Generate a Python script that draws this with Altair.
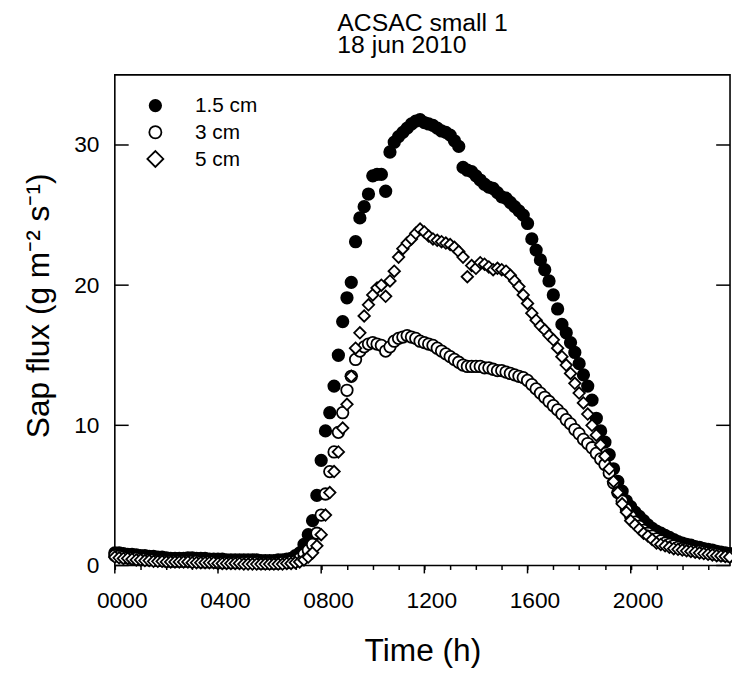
import altair as alt
import pandas as pd

# ---- data ----
SERIES = ["1.5 cm", "3 cm", "5 cm"]
MINUTES = list(range(0, 1440, 10))  # 10-minute logging interval

FLUX_15 = [
    0.9, 0.9, 0.85, 0.8, 0.8, 0.75,
    0.7, 0.7, 0.65, 0.65, 0.6, 0.6,
    0.55, 0.5, 0.5, 0.5, 0.5, 0.55,
    0.55, 0.5, 0.5, 0.5, 0.45, 0.45,
    0.45, 0.45, 0.4, 0.4, 0.4, 0.4,
    0.4, 0.4, 0.4, 0.4, 0.35, 0.35,
    0.35, 0.35, 0.4, 0.4, 0.45, 0.5,
    0.7, 0.9, 1.5, 2.2, 3.2, 5.0,
    7.5, 9.6, 10.9, 12.8, 15.0, 17.4,
    19.1, 20.2, 23.1, 24.8, 25.6, 26.5,
    27.8, 27.9, 27.9, 26.7, 29.5, 30.2,
    30.6, 30.9, 31.2, 31.5, 31.7, 31.8,
    31.6, 31.5, 31.4, 31.2, 31.0, 30.9,
    30.7, 30.3, 29.9, 28.4, 28.2, 28.1,
    27.8, 27.5, 27.2, 27.0, 26.9, 26.6,
    26.3, 26.2, 25.9, 25.6, 25.3, 25.0,
    24.4, 23.3, 22.5, 21.8, 21.1, 20.3,
    19.3, 18.3, 17.2, 16.6, 15.9, 15.2,
    14.4, 13.6, 12.8, 11.8, 10.5, 9.6,
    8.8, 7.9, 6.9, 6.0, 5.3, 4.6,
    4.2, 3.8, 3.5, 3.2, 2.9, 2.65,
    2.45, 2.3, 2.15, 2.0, 1.85, 1.7,
    1.6, 1.5, 1.45, 1.35, 1.3, 1.2,
    1.15, 1.1, 1.0, 0.95, 0.9, 0.85,
]

FLUX_3 = [
    0.7, 0.65, 0.6, 0.55, 0.5, 0.5,
    0.45, 0.45, 0.4, 0.4, 0.35, 0.35,
    0.3, 0.3, 0.3, 0.3, 0.3, 0.3,
    0.3, 0.3, 0.25, 0.25, 0.25, 0.25,
    0.2, 0.2, 0.2, 0.2, 0.2, 0.2,
    0.2, 0.2, 0.2, 0.2, 0.15, 0.15,
    0.15, 0.15, 0.15, 0.2, 0.2, 0.25,
    0.3, 0.5, 0.8, 1.1, 1.5, 2.3,
    3.6, 5.1, 6.7, 8.1, 9.5, 10.9,
    12.5, 13.5, 14.7, 15.3, 15.6, 15.8,
    15.9, 15.8, 15.7, 15.3, 15.6, 16.0,
    16.2, 16.3, 16.4, 16.3, 16.2, 16.0,
    15.9, 15.8, 15.7, 15.5, 15.3, 15.1,
    14.9, 14.7, 14.5, 14.3, 14.2, 14.2,
    14.2, 14.2, 14.1, 14.1, 14.0, 13.9,
    13.9, 13.8, 13.7, 13.6, 13.5, 13.4,
    13.2, 12.9, 12.6, 12.3, 12.0, 11.7,
    11.4, 11.1, 10.8, 10.4, 10.1, 9.7,
    9.4, 9.0, 8.7, 8.4, 8.0, 7.6,
    7.2, 6.6, 5.9, 5.2, 4.6, 4.0,
    3.5, 3.1, 2.8, 2.5, 2.3, 2.1,
    1.9, 1.75, 1.6, 1.5, 1.4, 1.3,
    1.2, 1.15, 1.1, 1.05, 1.0, 0.95,
    0.9, 0.85, 0.8, 0.75, 0.7, 0.65,
]

FLUX_5 = [
    0.6, 0.55, 0.5, 0.5, 0.45, 0.4,
    0.4, 0.35, 0.35, 0.3, 0.3, 0.3,
    0.25, 0.25, 0.25, 0.25, 0.25, 0.25,
    0.2, 0.2, 0.2, 0.2, 0.2, 0.2,
    0.15, 0.15, 0.15, 0.15, 0.15, 0.15,
    0.1, 0.1, 0.1, 0.1, 0.1, 0.1,
    0.1, 0.1, 0.1, 0.1, 0.15, 0.15,
    0.2, 0.25, 0.4, 0.6, 0.9, 1.4,
    2.2, 3.6, 5.2, 6.7, 8.1, 9.8,
    11.5, 13.5, 15.5, 16.6, 17.8, 18.6,
    19.3, 19.8, 20.0, 19.2, 20.3, 21.0,
    22.0, 22.6, 23.0, 23.3, 23.7, 24.0,
    23.8, 23.5, 23.3, 23.2, 23.1, 23.0,
    22.9, 22.7, 22.4, 22.0, 20.6, 21.4,
    21.2, 21.6, 21.5, 21.3, 21.1, 21.2,
    21.1, 21.0, 20.7, 20.3, 19.9, 19.3,
    18.7, 18.0, 17.5, 17.1, 16.8, 16.4,
    16.1, 15.5, 14.9, 14.3, 13.7, 13.0,
    12.3, 11.6, 10.8, 10.0, 9.3, 8.6,
    7.8, 6.9, 6.0, 5.2, 4.4, 3.8,
    3.2, 2.9, 2.6, 2.3, 2.1, 1.85,
    1.6, 1.5, 1.4, 1.3, 1.2, 1.15,
    1.1, 1.05, 1.0, 0.95, 0.9, 0.85,
    0.8, 0.75, 0.7, 0.68, 0.65, 0.6,
]

Y_TICKS = [0, 10, 20, 30]
X_MAJOR = [0, 4, 8, 12, 16, 20]
X_MINOR = list(range(0, 24))

TITLE_LINES = ["ACSAC small 1", "18 jun 2010"]
X_TITLE = "Time (h)"
Y_TITLE = "Sap flux (g m\u207b\u00b2 s\u207b\u00b9)"

SHAPES = ["circle", "circle", "diamond"]
FILLS = ["black", "white", "white"]
SIZES = [135, 135, 210]
LEGEND_SIZES = [135, 150, 260]

# ---- build table ----
rows = []
for si, (name, vals) in enumerate(zip(SERIES, [FLUX_15, FLUX_3, FLUX_5])):
    assert len(vals) == len(MINUTES)
    for m, v in zip(MINUTES, vals):
        rows.append({"series": name, "hours": m / 60.0, "flux": v, "idx": si})
df = pd.DataFrame(rows)

PLOT_W, PLOT_H = 622, 496
FONT = "Liberation Sans"

xscale = alt.Scale(domain=[0, 23.85], nice=False, zero=False)
yscale = alt.Scale(domain=[0, 35], nice=False, zero=False)

x_axis = alt.Axis(
    values=X_MINOR,
    labelExpr="datum.value % 4 == 0 ? pad(toString(datum.value * 100), 4, '0', 'left') : ''",
    tickSize=4, tickColor="black", tickWidth=1.5,
    domain=False, grid=False, labelOverlap=False, labelFlush=False,
    labelFont=FONT, labelFontSize=23, labelColor="black", labelPadding=20,
    labelOffset=7,
    title=X_TITLE, titleFont=FONT, titleFontSize=32, titleFontWeight="normal",
    titleColor="black", titleY=71,
)
y_axis = alt.Axis(
    values=Y_TICKS, ticks=False, domain=False, grid=False,
    labelFont=FONT, labelFontSize=23, labelColor="black", labelPadding=16,
    title=Y_TITLE, titleFont=FONT, titleFontSize=32, titleFontWeight="normal",
    titleColor="black", titleX=-60, titleY=233,
)

points = alt.Chart(df).mark_point(
    filled=True, opacity=1, stroke="black", strokeWidth=1.8
).encode(
    x=alt.X("hours:Q", scale=xscale, axis=x_axis),
    y=alt.Y("flux:Q", scale=yscale, axis=y_axis),
    shape=alt.Shape("series:N", scale=alt.Scale(domain=SERIES, range=SHAPES), legend=None),
    fill=alt.Fill("series:N", scale=alt.Scale(domain=SERIES, range=FILLS), legend=None),
    size=alt.Size("series:N", scale=alt.Scale(domain=SERIES, range=SIZES), legend=None),
    order=alt.Order("idx:Q"),
)

ytick_df = pd.DataFrame({"flux": Y_TICKS})
ytick_left = alt.Chart(ytick_df).mark_rule(color="black", strokeWidth=1.5).encode(
    y=alt.Y("flux:Q", scale=yscale, axis=y_axis), x=alt.value(0), x2=alt.value(14)
)
ytick_right = alt.Chart(ytick_df).mark_rule(color="black", strokeWidth=1.5).encode(
    y=alt.Y("flux:Q", scale=yscale, axis=y_axis), x=alt.value(PLOT_W - 14), x2=alt.value(PLOT_W)
)
xmajor = alt.Chart(pd.DataFrame({"hours": X_MAJOR})).mark_rule(color="black", strokeWidth=1.5).encode(
    x=alt.X("hours:Q", scale=xscale, axis=x_axis), y=alt.value(PLOT_H), y2=alt.value(PLOT_H + 8)
)

# ---- legend (inside the frame, top left) ----
legend_df = pd.DataFrame({"series": SERIES})
legend_layers = []
for i, name in enumerate(SERIES):
    base = alt.Chart(legend_df).transform_filter(alt.datum.series == name)
    legend_layers.append(
        base.mark_point(filled=True, opacity=1, stroke="black", strokeWidth=1.8,
                        shape=SHAPES[i], fill=FILLS[i], size=LEGEND_SIZES[i]).encode(
            x=alt.value(41), y=alt.value(31 + 27 * i)
        )
    )
    legend_layers.append(
        base.mark_text(align="left", baseline="middle", font=FONT, fontSize=21,
                       color="black").encode(
            x=alt.value(81), y=alt.value(32 + 27 * i), text="series:N"
        )
    )

chart = alt.layer(points, ytick_left, ytick_right, xmajor, *legend_layers).properties(
    width=PLOT_W, height=PLOT_H,
    padding={"left": 108, "top": 64, "right": 2, "bottom": 100},
    autosize="none",
    background="white",
    title=alt.TitleParams(
        text=TITLE_LINES, anchor="start", frame="group", dx=225, offset=17,
        font=FONT, fontSize=25, fontWeight="normal", color="black", lineHeight=22,
    ),
).configure_view(
    stroke="black", strokeWidth=1.6
)

chart.save("out.html", embed_options={"renderer": "svg", "actions": False})
